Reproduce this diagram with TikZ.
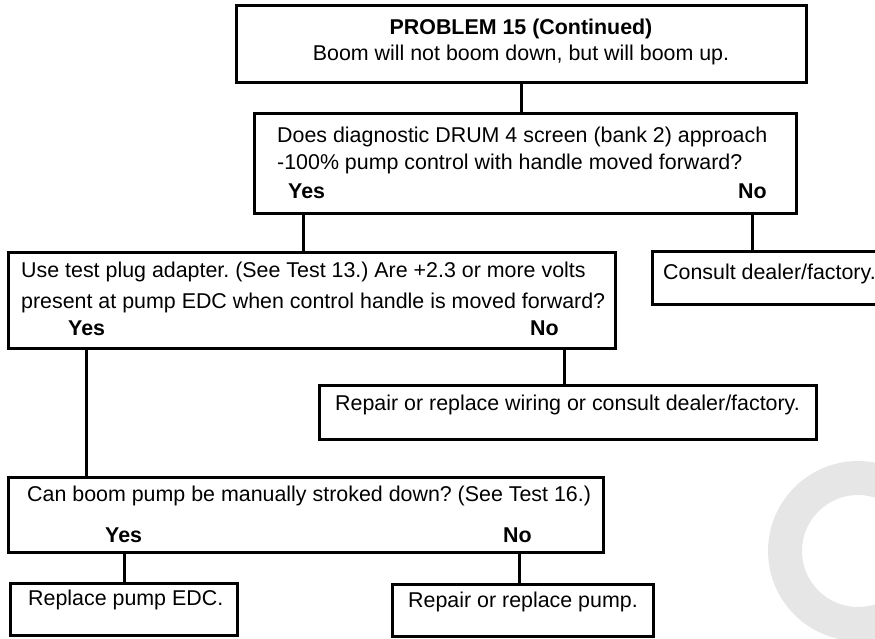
\documentclass[tikz,border=0pt]{standalone}
\usepackage{fontspec}
\setmainfont{Liberation Sans}
\definecolor{ringgray}{HTML}{E6E6E6}
\frenchspacing
\begin{document}
\begin{tikzpicture}[x=1pt,y=-1pt,
  box/.style={draw,line width=3pt,inner sep=0pt,outer sep=0pt},
  conn/.style={draw,line width=3pt},
  txt/.style={anchor=base west,inner sep=0pt,font=\fontsize{21.4}{25}\selectfont},
  ctxt/.style={anchor=base,inner sep=0pt,font=\fontsize{21.4}{25}\selectfont},
  btxt/.style={txt,font=\fontsize{21.4}{25}\selectfont\bfseries}]
\useasboundingbox (0,0) rectangle (875,638);
\clip (0,0) rectangle (875,638);
% watermark ring
\fill[ringgray,even odd rule] (858,551) circle[radius=90pt] (858,551) circle[radius=56pt];
% boxes
\node[box,minimum width=570pt,minimum height=77pt] (b1) at (521,43.5) {};
\node[box,minimum width=542pt,minimum height=100pt] (b2) at (525,163) {};
\node[box,minimum width=607pt,minimum height=96pt] (b3) at (311.5,300) {};
\node[box,minimum width=238pt,minimum height=53pt] (bc) at (771,277.5) {};
\node[box,minimum width=497pt,minimum height=54pt] (b4) at (567.5,412) {};
\node[box,minimum width=595pt,minimum height=75pt] (b5) at (305.5,514.5) {};
\node[box,minimum width=227pt,minimum height=52pt] (b6) at (123.5,609) {};
\node[box,minimum width=261pt,minimum height=52pt] (b7) at (522.5,610) {};
% texts
\node[ctxt,font=\fontsize{21.4}{25}\selectfont\bfseries] (t1a) at (521,34.5) {PROBLEM 15 (Continued)};
\node[ctxt] (t1b) at (521,60.5) {Boom will not boom down, but will boom up.};
\node[txt] (t2a) at (277,142.5) {Does diagnostic DRUM 4 screen (bank 2) approach};
\node[txt] (t2b) at (277,169.5) {-100\% pump control with handle moved forward?};
\node[btxt] (y2) at (288,198.5) {Yes};
\node[btxt] (n2) at (738,198.5) {No};
\node[txt] (t3a) at (21,277.5) {Use test plug adapter. (See Test 13.) Are +2.3 or more volts};
\node[txt] (t3b) at (21,308.5) {present at pump EDC when control handle is moved forward?};
\node[btxt] (y3) at (68,335.5) {Yes};
\node[btxt] (n3) at (530,335.5) {No};
\node[txt] (tc) at (663,279.5) {Consult dealer/factory.};
\node[txt] (t4) at (335,410.5) {Repair or replace wiring or consult dealer/factory.};
\node[txt] (t5) at (27,501.5) {Can boom pump be manually stroked down? (See Test 16.)};
\node[btxt] (y5) at (105,542.5) {Yes};
\node[btxt] (n5) at (503,542.5) {No};
\node[txt] (t6) at (28,605.5) {Replace pump EDC.};
\node[txt] (t7) at (408,607.5) {Repair or replace pump.};
% connector x positions
\coordinate (x1) at (521,0);
\coordinate (x2y) at (303,0);
\coordinate (x2n) at (752,0);
\coordinate (x3y) at (86,0);
\coordinate (x3n) at (564,0);
\coordinate (x5y) at (124,0);
\coordinate (x5n) at (519,0);
% connectors
\draw[conn] (b1.south -| x1) -- (b2.north -| x1);
\draw[conn] (b2.south -| x2y) -- (b3.north -| x2y);
\draw[conn] (b2.south -| x2n) -- (bc.north -| x2n);
\draw[conn] (b3.south -| x3y) -- (b5.north -| x3y);
\draw[conn] (b3.south -| x3n) -- (b4.north -| x3n);
\draw[conn] (b5.south -| x5y) -- (b6.north -| x5y);
\draw[conn] (b5.south -| x5n) -- (b7.north -| x5n);
\end{tikzpicture}
\end{document}
